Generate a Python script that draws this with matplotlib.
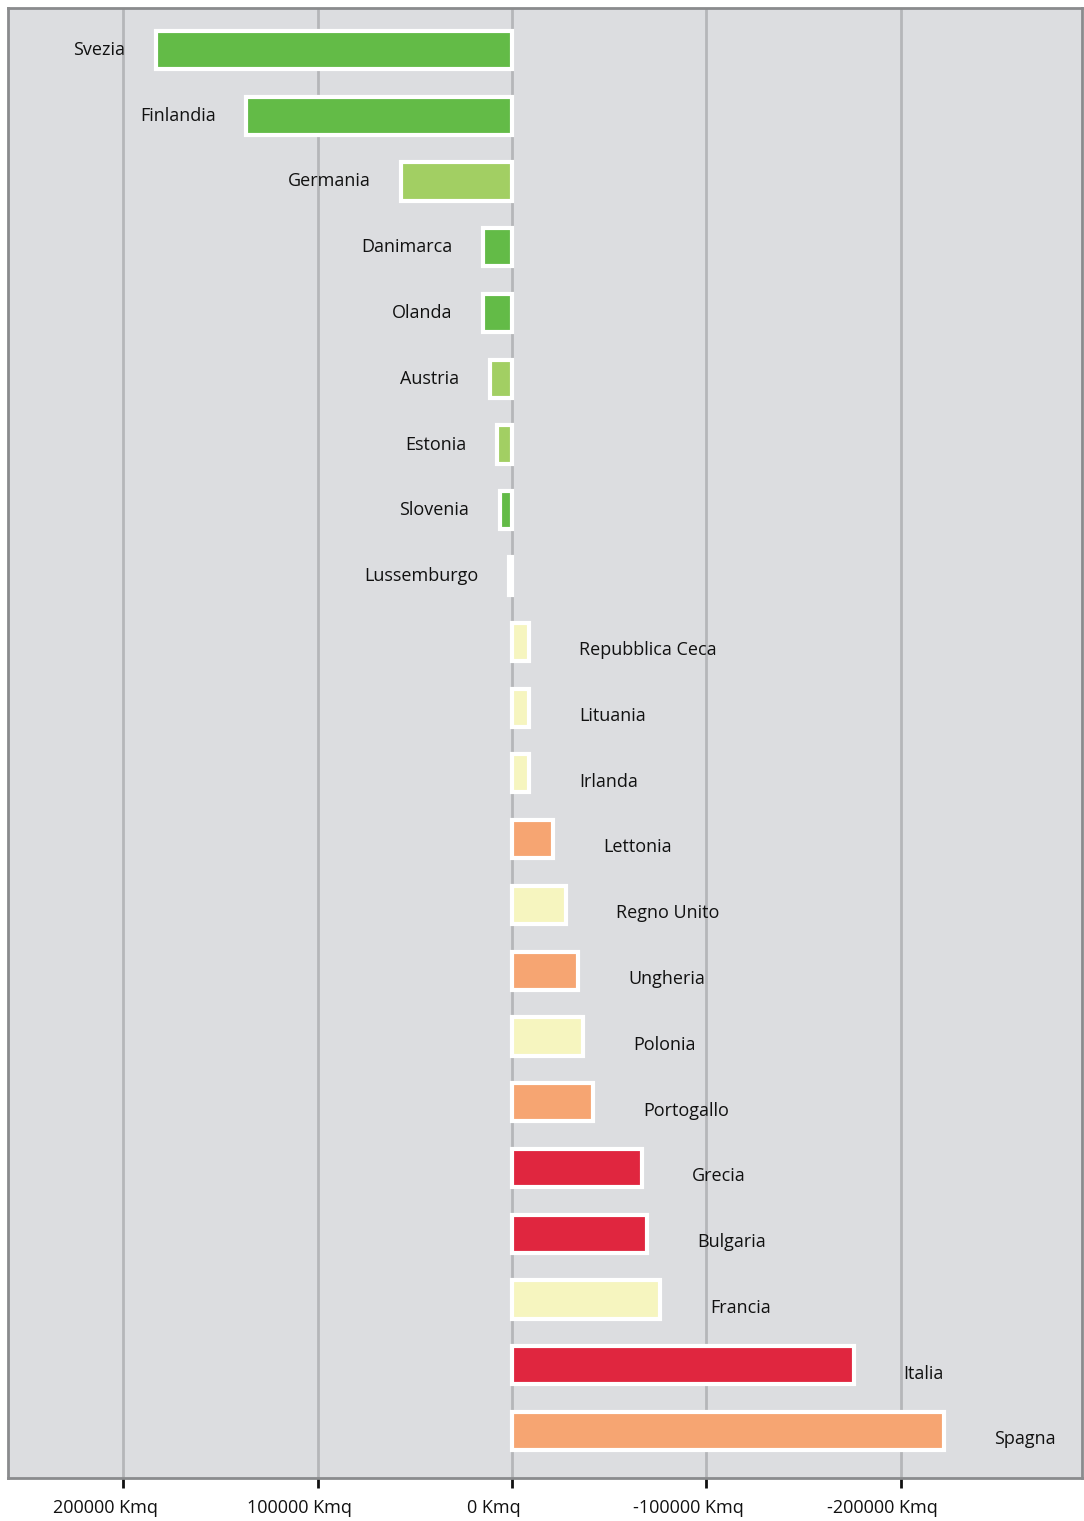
import matplotlib
matplotlib.use("Agg")
from matplotlib import pyplot as plt
from matplotlib import transforms

paesi = ["Svezia", "Finlandia", "Germania", "Danimarca", "Olanda", "Austria",
         "Estonia", "Slovenia", "Lussemburgo", "Repubblica Ceca", "Lituania",
         "Irlanda", "Lettonia", "Regno Unito", "Ungheria", "Polonia",
         "Portogallo", "Grecia", "Bulgaria", "Francia", "Italia", "Spagna"]
# variazione in Kmq (positivo a sinistra)
valori = [183500, 136800, 57000, 14900, 14900, 11300, 7700, 6200, 1500,
          -8700, -8700, -8700, -21000, -27800, -33900, -36500, -41600,
          -66800, -69400, -76100, -175800, -222600]
classi = ["g1", "g1", "g2", "g1", "g1", "g2", "g2", "g1", "g1",
          "y", "y", "y", "o", "y", "o", "y", "o",
          "r", "r", "y", "r", "o"]
colori = {"g1": "#63bb47", "g2": "#a2cf63", "y": "#f6f5bf",
          "o": "#f6a572", "r": "#e0263f"}
tick_val = [200000, 100000, 0, -100000, -200000]
tick_lab = ["200000 Kmq", "100000 Kmq", "0 Kmq", "-100000 Kmq", "-200000 Kmq"]

plt.rcParams['font.family'] = ['Open Sans', 'DejaVu Sans']

fig = plt.figure(figsize=(10.84, 15.21), dpi=100)
ax = fig.add_axes([8/1084, 43/1521, 1074/1084, 1470/1521])
ax.set_facecolor("#dcdde0")

y = list(range(len(paesi)))
ax.barh(y, valori, height=0.58, color=[colori[c] for c in classi],
        edgecolor="white", linewidth=3, zorder=3)

for i, (p, v) in enumerate(zip(paesi, valori)):
    if v > 0:
        ax.annotate(p, (v, i), xytext=(-22, 0), textcoords="offset points",
                    ha="right", va="center", fontsize=13, color="#111111")
    else:
        ax.annotate(p, (v, i), xytext=(36, -6), textcoords="offset points",
                    ha="left", va="center", fontsize=13, color="#111111")

ax.set_xlim(259450, -293400)
ax.set_ylim(21.714, -0.638)
ax.set_yticks([])
ax.set_xticks(tick_val)
ax.set_xticklabels([])
ax.tick_params(axis="x", direction="out", length=7, width=2, color="#111111")

# etichette asse x leggermente spostate a sinistra
trans = transforms.blended_transform_factory(ax.transData, ax.transAxes)
trans = trans + transforms.ScaledTranslation(-18/100, 0, fig.dpi_scale_trans)
for v, lab in zip(tick_val, tick_lab):
    ax.text(v, -30/1470, lab, transform=trans, ha="center", va="center",
            fontsize=13, color="#111111")

ax.grid(axis="x", color="#b5b6b9", linewidth=2, zorder=0)
ax.set_axisbelow(True)
for s in ax.spines.values():
    s.set_color("#8a8b8d")
    s.set_linewidth(2)

fig.savefig("out.png", dpi=100, facecolor="white")
